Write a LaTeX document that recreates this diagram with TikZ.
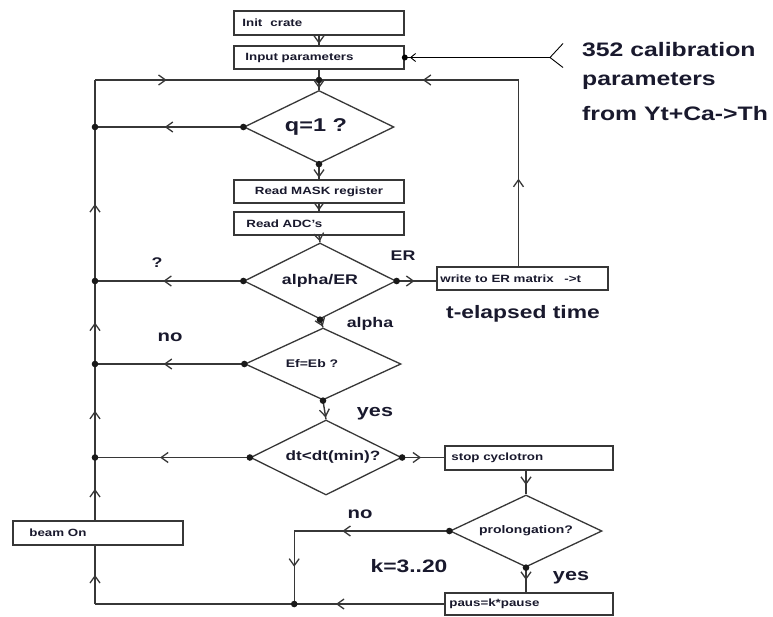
\documentclass[tikz,border=0pt]{standalone}
\usepackage{fontspec}
\setmainfont{Liberation Sans}
\usetikzlibrary{arrows.meta,decorations.markings,shapes.geometric}
\definecolor{lncol}{RGB}{55,55,55}
\definecolor{txcol}{RGB}{25,25,45}
\newcommand{\hs}[1]{\scalebox{1.27}[1]{#1}}
\newcommand{\fsz}[1]{\fontsize{#1}{#1}\selectfont\bfseries}
\begin{document}
\begin{tikzpicture}[x=1pt,y=-1pt,
  wire/.style={draw=lncol, line width=1.4pt},
  boxn/.style={draw=lncol, line width=1.6pt, rectangle, minimum width=170pt, minimum height=23pt, inner sep=0pt, text=txcol},
  dia/.style={draw=lncol, line width=1.3pt, diamond, aspect=2, inner sep=0pt, text=txcol},
  txt/.style={text=txcol, inner sep=0pt},
  am/.style={postaction={decorate}, decoration={markings, mark=at position #1 with {\arrow{Straight Barb[length=7pt,width=10pt,line width=1.3pt,color=lncol]}}}},
]
\useasboundingbox[fill=white] (0,0) rectangle (773,616);

% boxes
\node[boxn, minimum height=24pt] (init) at (319,23) {};
\node[txt, anchor=west, font=\fsz{10.5}] (tinit) at ([xshift=9pt]init.west) {\hs{Init\hspace{0.6em}crate}};
\node[boxn] (inp) at (319,57.5) {};
\node[txt, anchor=west, font=\fsz{10.5}] (tinp) at ([xshift=12pt]inp.west) {\hs{Input parameters}};
\node[boxn, font=\fsz{10.5}] (mask) at (319,191.5) {\hs{Read MASK register}};
\node[boxn] (adc) at (319,223.5) {};
\node[txt, anchor=west, font=\fsz{10.5}] (tadc) at ([xshift=13pt]adc.west) {\hs{Read ADC's}};
\node[boxn, minimum width=171pt] (write) at (522.5,278.5) {};
\node[txt, anchor=west, font=\fsz{10.5}] (twrite) at ([xshift=4pt]write.west) {\hs{write to ER matrix\hspace{0.8em}->t}};
\node[boxn, minimum width=168pt, minimum height=24pt] (stop) at (529,458) {};
\node[txt, anchor=west, font=\fsz{10.5}] (tstop) at ([xshift=7pt]stop.west) {\hs{stop cyclotron}};
\node[boxn, minimum width=168pt, minimum height=22pt] (paus) at (529,604) {};
\node[txt, anchor=west, font=\fsz{10.5}] (tpaus) at ([xshift=5pt]paus.west) {\hs{paus=k*pause}};
\node[boxn, minimum height=24pt] (beam) at (98,533) {};
\node[txt, anchor=west, font=\fsz{10.5}] (tbeam) at ([xshift=17pt]beam.west) {\hs{beam On}};

% diamonds
\node[dia, minimum width=150pt, minimum height=73pt, font=\fsz{18.5}] (q) at (319,127) {\hs{q=1 ?}\hspace*{6pt}};
\node[dia, minimum width=152pt, minimum height=76pt, font=\fsz{14}] (ae) at (320,281) {\hs{alpha/ER}};
\node[dia, minimum width=156pt, minimum height=72pt, font=\fsz{11}] (ef) at (323,364) {\hs{Ef=Eb ?}\hspace*{22pt}};
\node[dia, minimum width=151pt, minimum height=75pt, font=\fsz{13.5}] (dt) at (326,457.5) {\hspace*{14pt}\hs{dt<dt(min)?}};
\node[dia, minimum width=152pt, minimum height=72pt, font=\fsz{11}] (pr) at (526,531) {\hs{prolongation?}};

% coordinates
\coordinate (TL) at (95,80);
\coordinate (J0) at (inp.south |- TL);
\coordinate (BL) at (95,604);
\coordinate (D1) at (TL |- q.west);
\coordinate (D2) at (TL |- ae.west);
\coordinate (D3) at (TL |- ef.west);
\coordinate (D4) at (TL |- dt.west);
\coordinate (WT) at ([xshift=-4pt]write.north);
\coordinate (TR) at (WT |- TL);
\coordinate (J5) at ([xshift=-150pt]paus.west);
\coordinate (C1) at (J5 |- pr.west);
\coordinate (cal) at (550,57.5);

% main column
\draw[wire, am=0.85] (init.south) -- (inp.north);
\draw[wire, am=0.92] (inp.south) -- (q.north);
\draw[wire, am=0.9] (q.south) -- (mask.north);
\draw[wire, am=0.9] (mask.south) -- (adc.north);
\draw[wire, am=0.85] (adc.south) -- (ae.north);
\draw[wire, am=0.9] (ae.south) -- (ef.north);
\draw[wire, am=0.9] (ef.south) -- (dt.north);

% left branches
\draw[wire, am=0.53] (q.west) -- (D1);
\draw[wire, am=0.54] (ae.west) -- (D2);
\draw[wire, am=0.54] (ef.west) -- (D3);
\draw[wire, am=0.58] (dt.west) -- (D4);

% left return column
\draw[wire, am=0.5] (BL |- beam.north) -- (D4);
\draw[wire, am=0.5] (D4) -- (D3);
\draw[wire, am=0.5] (D3) -- (D2);
\draw[wire, am=0.5] (D2) -- (D1);
\draw[wire] (D1) -- (TL);
\draw[wire, am=0.32] (TL) -- (J0);

% ER feedback
\draw[wire, am=0.45] (ae.east) -- (ae.east -| write.west);
\draw[wire, am=0.47] (WT) -- (TR);
\draw[wire, am=0.48] (TR) -- (J0);

% stop / prolongation
\draw[wire, am=0.45] (dt.east) -- (dt.east -| stop.west);
\draw[wire, am=0.6] (pr.north |- stop.south) -- (pr.north);
\draw[wire, am=0.5] (pr.south) -- (pr.south |- paus.north);
\draw[wire, am=0.69] (pr.west) -- (C1);
\draw[wire, am=0.49] (C1) -- (J5);
\draw[wire, am=0.31] (paus.west) -- (BL);
\draw[wire, am=0.5] (BL) -- (BL |- beam.south);

% calibration input
\draw[black, line width=0.9pt, postaction={decorate}, decoration={markings, mark=at position 0.965 with {\arrow{Straight Barb[length=5pt,width=8pt,line width=0.9pt,color=black]}}}] (cal) -- (inp.east);
\draw[black, line width=0.9pt] (cal) -- ++(13,-14) (cal) -- ++(13,10);

% dots
\foreach \p in {J0, q.west, q.south, D1, D2, D3, D4, ae.west, ae.east, ae.south, ef.west, ef.south, dt.west, dt.east, pr.west, pr.south, J5}
  \fill[black!90] (\p) circle (3.3pt);
\fill[black] (inp.east) circle (3pt);

% labels
\node[txt, font=\fsz{14}] (lq) at (157,263) {\hs{?}};
\node[txt, font=\fsz{14}] (ler) at (403,256) {\hs{ER}};
\node[txt, font=\fsz{14}] (lal) at (370,324) {\hs{alpha}};
\node[txt, font=\fsz{16}] (lno1) at (170,337) {\hs{no}};
\node[txt, font=\fsz{17}] (lyes1) at (375,414) {\hs{yes}};
\node[txt, font=\fsz{16}] (lno2) at (360,514) {\hs{no}};
\node[txt, font=\fsz{18}] (lk) at (409,566) {\hs{k=3..20}};
\node[txt, font=\fsz{17}] (lyes2) at (571,578) {\hs{yes}};
\node[txt, font=\fsz{18}] (lt) at (523,314) {\hs{t-elapsed time}};
\node[txt, font=\fsz{19.5}, anchor=base west] (lc1) at (582,56.5) {\hs{352 calibration}};
\node[txt, font=\fsz{19.5}, anchor=base west] (lc2) at (582,85) {\hs{parameters}};
\node[txt, font=\fsz{19.5}, anchor=base west] (lc3) at (582,120.5) {\hs{from Yt+Ca->Th}};
\end{tikzpicture}
\end{document}
